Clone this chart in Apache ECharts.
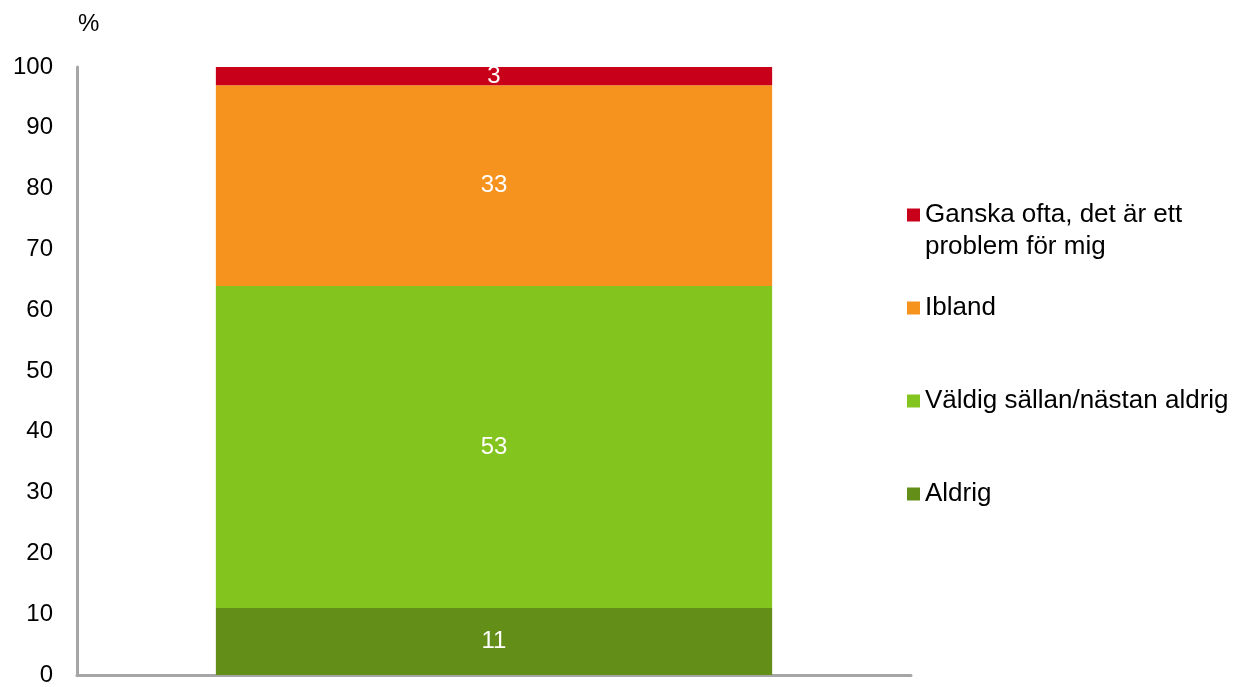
<!DOCTYPE html>
<html><head><meta charset="utf-8">
<script src="https://cdn.jsdelivr.net/npm/echarts@6/dist/echarts.min.js"></script>
<style>html,body{margin:0;padding:0;background:#fff}#c{width:1241px;height:687px}</style>
</head><body><div id="c"></div>
<script>
const categories = [''];
const seriesNames = ['Aldrig', 'Väldig sällan/nästan aldrig', 'Ibland', 'Ganska ofta, det är ett problem för mig'];
const aldrig = [11];
const valdigSallan = [53];
const ibland = [33];
const ganskaOfta = [3];
const yTicks = [0, 10, 20, 30, 40, 50, 60, 70, 80, 90, 100];
const colors = ['#638E18', '#83C41F', '#F6921E', '#C9001A'];

const values = [aldrig, valdigSallan, ibland, ganskaOfta];
const font = 'Liberation Sans, Arial, sans-serif';
const chart = echarts.init(document.getElementById('c'));
const legendTops = [494 - 16, 401 - 16, 308 - 16, 215 - 48];
const legends = seriesNames.map((n, i) => ({
  orient: 'vertical', left: 907, top: legendTops[i], padding: 0,
  itemWidth: 13, itemHeight: 13, itemGap: 0, icon: 'rect',
  formatter: i === 3 ? '\nGanska ofta, det är ett\nproblem för mig' : '{name}',
  textStyle: {fontFamily: font, fontSize: 26, color: '#000', lineHeight: 32},
  data: [n], selectedMode: false
}));
chart.setOption({
  animation: false,
  title: {text: '%', left: 78, top: 12, padding: 0, textStyle: {fontFamily: font, fontSize: 24, fontWeight: 'normal', color: '#000'}},
  grid: {left: 77, right: 330, top: 67, bottom: 10, containLabel: false},
  legend: legends,
  xAxis: {type: 'category', data: categories, axisTick: {show: false}, axisLabel: {show: false},
    axisLine: {lineStyle: {color: '#A6A6A6', width: 3}}},
  yAxis: {type: 'value', min: 0, max: 100, interval: 10, splitLine: {show: false},
    axisLine: {show: true, lineStyle: {color: '#A6A6A6', width: 3}}, axisTick: {show: false},
    axisLabel: {margin: 24, fontFamily: font, fontSize: 24, color: '#000', padding: [4, 0, 0, 0],
      formatter: v => yTicks.includes(v) ? String(v) : ''}},
  series: seriesNames.map((n, i) => ({
    name: n, type: 'bar', stack: 'a', barWidth: '66.7%', data: values[i],
    itemStyle: {color: colors[i]},
    label: {show: true, position: 'inside', color: '#fff', fontFamily: font, fontSize: 24}
  }))
});
</script></body></html>
